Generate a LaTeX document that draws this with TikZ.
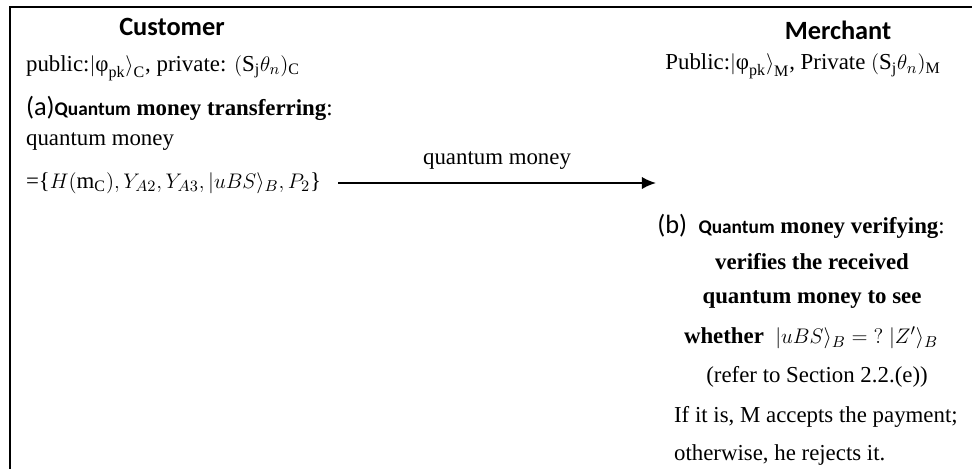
\documentclass[tikz,border=0pt]{standalone}
\usepackage{fontspec}
\setmainfont{Liberation Serif}
\newfontfamily\carlito{Carlito}
\usetikzlibrary{arrows.meta}

\begin{document}
\begin{tikzpicture}[
  every node/.style={inner sep=1pt, font=\fontsize{13}{15}\selectfont},
  lefttext/.style={anchor=west},
  midtext/.style={anchor=center},
  party/.style={font=\fontsize{15}{17}\selectfont\carlito\bfseries},
  sendarrow/.style={-{Latex[length=8pt,width=7pt]}, line width=1.1pt}
  ]

  % Canvas and frame
  \useasboundingbox (0,0) rectangle (19.44,-9.38);
  \draw[line width=1.6pt] (19.44,-0.14) -| (0.2,-9.38);

  % Customer side
  \node[party] (customer) at (3.44,-0.54) {Customer};
  \node[lefttext] (custkeys) at (0.48,-1.36)
    {public:$\big|\mbox{φ}_{\mathrm{pk}}\big\rangle_{\mathrm{C}}$, private: $(\mathrm{S_j}\theta_n)_{\mathrm{C}}$};
  \node[lefttext] (transfer) at (0.48,-2.16)
    {{\carlito\fontsize{15}{17}\selectfont (a)}{\carlito\bfseries\fontsize{11}{13}\selectfont Quantum} \textbf{money\ transferring}:};
  \node[lefttext] (qmoney) at (0.48,-2.84) {quantum money};
  \node[lefttext] (qmset) at (0.48,-3.66)
    {=\{$H(\mathrm{m_C}), Y_{A2}, Y_{A3}, |uBS\rangle_B, P_2$\}};

  % Merchant side
  \node[party] (merchant) at (16.76,-0.6) {Merchant};
  \node[midtext] (merchkeys) at (16.06,-1.33)
    {Public:$\big|\mbox{φ}_{\mathrm{pk}}\big\rangle_{\mathrm{M}}$, Private $(\mathrm{S_j}\theta_n)_{\mathrm{M}}$};
  \node[midtext] (verify) at (16.02,-4.52)
    {{\carlito\fontsize{15}{17}\selectfont (b)}\ \ {\carlito\bfseries\fontsize{11}{13}\selectfont Quantum} \textbf{money\ verifying}:};
  \node[midtext] (verline1) at (16.24,-5.24) {\textbf{verifies the received}};
  \node[midtext] (verline2) at (16.24,-6.0) {\textbf{quantum money\ to see}};
  \node[midtext] (verline3) at (16.22,-6.76) {\textbf{whether}\ \ $|uBS\rangle_B = {?}\ |Z'\rangle_B$};
  \node[midtext] (verline4) at (16.34,-7.54) {(refer to Section 2.2.(e))};
  \node[lefttext] (accept) at (13.44,-8.34) {If it is, M accepts the payment;};
  \node[lefttext] (reject) at (13.44,-9.1) {otherwise, he rejects it.};

  % Transfer arrow
  \coordinate (sendstart) at (6.76,-3.66);
  \coordinate (sendend) at (13.12,-3.66);
  \draw[sendarrow] (sendstart) -- node[above=6pt] (sendlabel) {quantum money} (sendend);

\end{tikzpicture}
\end{document}
